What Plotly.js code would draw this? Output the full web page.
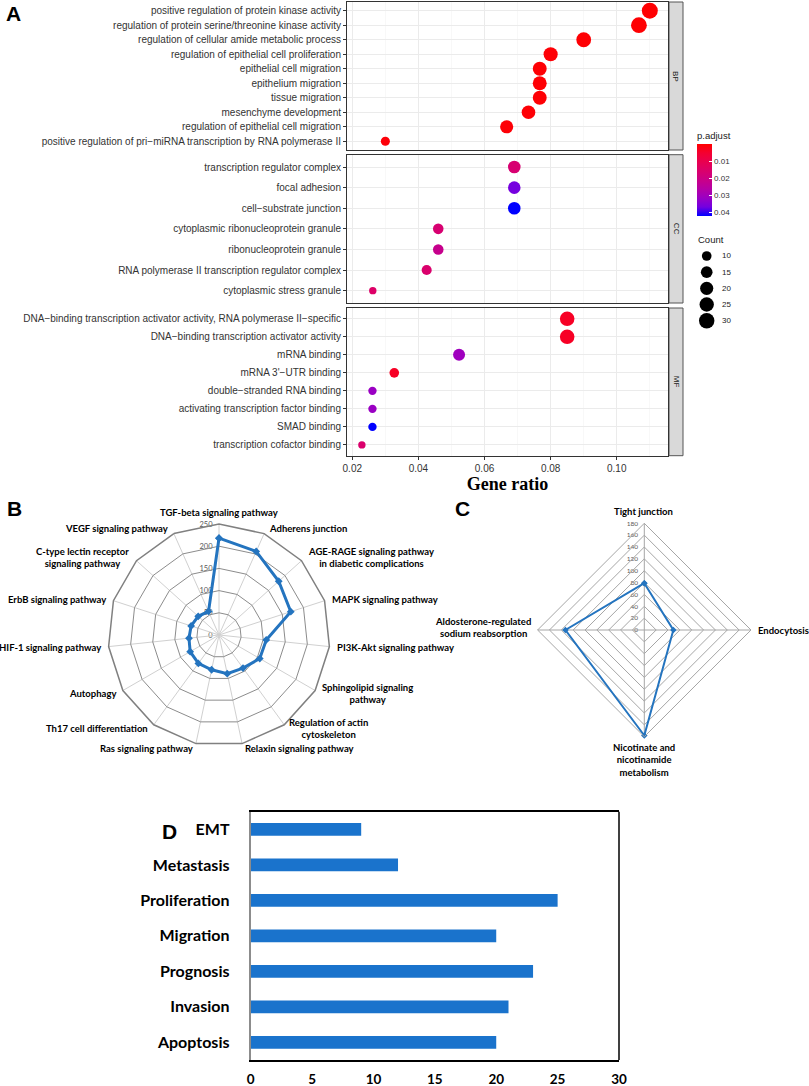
<!DOCTYPE html>
<html>
<head>
<meta charset="utf-8">
<script src="https://cdn.plot.ly/plotly-3.0.1.min.js"></script>
<style>html,body{margin:0;padding:0;background:#fff}#chart{width:809px;height:1086px}</style>
</head>
<body>
<div id="chart"></div>
<script>
// ---------------- Panel A data (GO enrichment dot plot) ----------------
const bpTerms = ["positive regulation of protein kinase activity","regulation of protein serine/threonine kinase activity","regulation of cellular amide metabolic process","regulation of epithelial cell proliferation","epithelial cell migration","epithelium migration","tissue migration","mesenchyme development","regulation of epithelial cell migration","positive regulation of pri\u2212miRNA transcription by RNA polymerase II"];
const bpRatio = [0.110,0.1067,0.090,0.080,0.0767,0.0767,0.0767,0.0733,0.0667,0.030];
const bpCount = [33,32,27,24,23,23,23,22,20,9];
const bpP = [0.0002,0.0003,0.0004,0.0006,0.0005,0.0005,0.0005,0.0007,0.0008,0.0010];

const ccTerms = ["transcription regulator complex","focal adhesion","cell\u2212substrate junction","cytoplasmic ribonucleoprotein granule","ribonucleoprotein granule","RNA polymerase II transcription regulator complex","cytoplasmic stress granule"];
const ccRatio = [0.069,0.069,0.069,0.0460,0.0460,0.0425,0.0262];
const ccCount = [18,18,18,12,12,11,7];
const ccP = [0.017,0.037,0.0426,0.017,0.022,0.016,0.015];

const mfTerms = ["DNA\u2212binding transcription activator activity, RNA polymerase II\u2212specific","DNA\u2212binding transcription activator activity","mRNA binding","mRNA 3'\u2212UTR binding","double\u2212stranded RNA binding","activating transcription factor binding","SMAD binding","transcription cofactor binding"];
const mfRatio = [0.085,0.085,0.0523,0.0327,0.0261,0.0261,0.0261,0.0229];
const mfCount = [26,26,16,10,8,8,8,7];
const mfP = [0.004,0.004,0.031,0.004,0.032,0.032,0.0426,0.016];

const facetNames = ["BP","CC","MF"];
const pTicks = [0.01,0.02,0.03,0.04];
const countLegend = [10,15,20,25,30];
const xTicksA = [0.02,0.04,0.06,0.08,0.10];

// ---------------- Panel B data (KEGG radar) ----------------
const bCats = ["TGF-beta signaling pathway","Adherens junction","AGE-RAGE signaling pathway<br>in diabetic complications","MAPK signaling pathway","PI3K-Akt signaling pathway","Sphingolipid signaling<br>pathway","Regulation of actin<br>cytoskeleton","Relaxin signaling pathway","Ras signaling pathway","Th17 cell differentiation","Autophagy","HIF-1 signaling pathway","ErbB signaling pathway","C-type lectin receptor<br>signaling pathway","VEGF signaling pathway"];
const bVals = [218,206,181,170,107,106,92,89,80,79,75,68,66,63,58];
const bTicks = [0,50,100,150,200,250];

// ---------------- Panel C data (radar) ----------------
const cCats = ["Tight junction","Endocytosis","Nicotinate and<br>nicotinamide<br>metabolism","Aldosterone-regulated<br>sodium reabsorption"];
const cVals = [79,49,178,133];
const cTicks = [0,20,40,60,80,100,120,140,160,180];

// ---------------- Panel D data (bar chart) ----------------
const dCats = ["EMT","Metastasis","Proliferation","Migration","Prognosis","Invasion","Apoptosis"];
const dVals = [9,12,25,20,23,21,20];

// ---------------- helpers / layout constants ----------------
const W = 809, H = 1086;
const fx = p => p / W;
const fy = p => 1 - p / H;
const dom = (top, bottom) => [fy(bottom), fy(top)];
const sizeOf = c => 6 + 10 * Math.sqrt(Math.max(0, c - 6.5) / 26.5);
const pMax = 0.0426;

const colorscale = [[0,'rgb(0,0,255)'],[0.125,'rgb(115,0,224)'],[0.25,'rgb(154,0,195)'],[0.375,'rgb(181,0,165)'],[0.5,'rgb(201,0,136)'],[0.625,'rgb(218,0,108)'],[0.75,'rgb(232,0,80)'],[0.875,'rgb(244,0,49)'],[1,'rgb(255,0,0)']];

const sansA = 'Liberation Sans, Arial, sans-serif';
const calib = 'Lato, Carlito, Calibri, sans-serif';

// label placement for radar category labels (pixel anchor, xanchor)
const bLabelPos = [[219,512,'center'],[267,528,'left'],[306,557,'left'],[330,599,'left'],[335,647,'left'],[320,693,'left'],[287,728.5,'left'],[243,748,'left'],[195,748,'right'],[150,728,'right'],[118,693,'right'],[103,647,'right'],[108,599,'right'],[131,557,'right'],[170,528,'right']];
const cLabelPos = [[643,511.7,'center'],[756,630,'left'],[644,760,'center'],[533,627.7,'right']];

function dotTrace(terms, ratio, count, p, xa, ya) {
  return {
    type: 'scatter', mode: 'markers', x: ratio, y: terms, xaxis: xa, yaxis: ya,
    marker: { size: count.map(sizeOf), color: p.map(v => -v), coloraxis: 'coloraxis', line: { width: 0 }, opacity: 1 },
    showlegend: false, hoverinfo: 'skip'
  };
}

const traces = [
  dotTrace(bpTerms, bpRatio, bpCount, bpP, 'x', 'y'),
  dotTrace(ccTerms, ccRatio, ccCount, ccP, 'x2', 'y2'),
  dotTrace(mfTerms, mfRatio, mfCount, mfP, 'x3', 'y3'),
  { // size legend
    type: 'scatter', mode: 'markers', x: countLegend.map(() => 0), y: countLegend, xaxis: 'x4', yaxis: 'y4',
    marker: { size: countLegend.map(sizeOf), color: '#000', opacity: 1, line: { width: 0 } }, showlegend: false, hoverinfo: 'skip'
  },
  { // panel B
    type: 'scatterpolar', r: bVals.concat([bVals[0]]), theta: bCats.concat([bCats[0]]), subplot: 'polar',
    mode: 'lines+markers', line: { color: '#2474BF', width: 3 }, marker: { symbol: 'diamond', size: 6, color: '#2474BF' },
    showlegend: false, hoverinfo: 'skip'
  },
  { // panel C
    type: 'scatterpolar', r: cVals.concat([cVals[0]]), theta: cCats.concat([cCats[0]]), subplot: 'polar2',
    mode: 'lines+markers', line: { color: '#2474BF', width: 2 }, marker: { symbol: 'diamond', size: 5, color: '#2474BF' },
    showlegend: false, hoverinfo: 'skip'
  },
  { // panel D
    type: 'bar', orientation: 'h', x: dVals, y: dCats, xaxis: 'x5', yaxis: 'y5', width: 0.36,
    marker: { color: '#1A73CC', line: { width: 0 } }, showlegend: false, hoverinfo: 'skip'
  },
  // radial value scales of B and C (drawn as vertical axes along the top spoke)
  { type: 'scatter', mode: 'markers', x: bTicks.map(() => 0), y: bTicks, xaxis: 'x6', yaxis: 'y6', marker: { opacity: 0 }, showlegend: false, hoverinfo: 'skip' },
  { type: 'scatter', mode: 'markers', x: cTicks.map(() => 0), y: cTicks, xaxis: 'x7', yaxis: 'y7', marker: { opacity: 0 }, showlegend: false, hoverinfo: 'skip' }
];

const aX = [347, 668];
const panels = [[2, 150], [154.7, 303], [308, 455.7]];
const aRange = [0.0184, 0.1155];

function xA(i) {
  const last = i === 2;
  return {
    domain: [fx(aX[0]), fx(aX[1])], anchor: i === 0 ? 'y' : 'y' + (i + 1), range: aRange,
    tickvals: xTicksA, ticktext: xTicksA.map(v => v.toFixed(2)),
    showticklabels: last, ticks: last ? 'outside' : '', ticklen: 3, tickcolor: '#333',
    tickfont: { family: sansA, size: 10, color: '#333' },
    showgrid: true, gridcolor: '#EBEBEB', gridwidth: 1,
    minor: { dtick: 0.01, tick0: 0.01, showgrid: true, gridcolor: '#F4F4F4', gridwidth: 0.6 },
    zeroline: false, showline: true, mirror: true, linecolor: '#333', linewidth: 1,
    title: last ? { text: 'Gene ratio', font: { family: 'Liberation Serif, Times New Roman, serif', size: 18, weight: 'bold', color: '#000' }, standoff: 4 } : { text: '' }
  };
}
function yA(i, terms) {
  return {
    domain: dom(panels[i][0], panels[i][1]), anchor: i === 0 ? 'x' : 'x' + (i + 1),
    type: 'category', categoryorder: 'array', categoryarray: terms, range: [terms.length - 1 + 0.6, -0.6],
    ticks: 'outside', ticklen: 3, tickcolor: '#333', tickfont: { family: sansA, size: 10, color: '#333' },
    showgrid: true, gridcolor: '#EBEBEB', gridwidth: 1, zeroline: false,
    showline: true, mirror: true, linecolor: '#333', linewidth: 1
  };
}

const shapes = [];
const annotations = [];
panels.forEach((pn, i) => {
  shapes.push({ type: 'rect', xref: 'paper', yref: 'paper', x0: fx(669), x1: fx(683), y0: fy(pn[1]), y1: fy(pn[0]),
    fillcolor: '#D9D9D9', line: { color: '#555', width: 1 }, layer: 'below' });
  annotations.push({ xref: 'paper', yref: 'paper', x: fx(676), y: fy((pn[0] + pn[1]) / 2), text: facetNames[i], textangle: 90,
    showarrow: false, font: { family: sansA, size: 8, color: '#1A1A1A' }, xanchor: 'center', yanchor: 'middle' });
});
annotations.push({ xref: 'paper', yref: 'paper', x: fx(696), y: fy(239), text: 'Count', showarrow: false, xanchor: 'left', yanchor: 'middle',
  font: { family: sansA, size: 9.5, color: '#1A1A1A' } });
countLegend.forEach(v => annotations.push({ xref: 'paper', yref: 'y4', x: fx(720), y: v, text: String(v), showarrow: false,
  xanchor: 'left', yanchor: 'middle', font: { family: sansA, size: 8, color: '#1A1A1A' } }));
[['A', 4, 14], ['B', 5, 509], ['C', 453, 509], ['D', 160, 831]].forEach(l => annotations.push({
  xref: 'paper', yref: 'paper', x: fx(l[1]), y: fy(l[2]), text: '<b>' + l[0] + '</b>', showarrow: false, xanchor: 'left', yanchor: 'middle',
  font: { family: sansA, size: 21, color: '#000' } }));
// radar category labels
function radarLabels(cats, pos) {
  cats.forEach((c, i) => annotations.push({ xref: 'paper', yref: 'paper', x: fx(pos[i][0]), y: fy(pos[i][1]), text: c,
    xanchor: pos[i][2], yanchor: 'middle', align: 'center', showarrow: false,
    font: { family: calib, size: 9.5, weight: 'bold', color: '#000' } }));
}
radarLabels(bCats, bLabelPos);
radarLabels(cCats, cLabelPos);
shapes.push({ type: 'line', xref: 'paper', yref: 'paper', x0: fx(619), x1: fx(619), y0: fy(1060), y1: fy(811.7), line: { color: '#000', width: 1.5 } });

function radialScale(domainY, range, dtick, xDomLeft, size) {
  return [
    { domain: [fx(xDomLeft), fx(xDomLeft + 10)], anchor: null, range: [0, 1], visible: false },
    { domain: domainY, range: range, dtick: dtick, side: 'left', showline: false, showgrid: false, zeroline: false,
      ticks: 'outside', ticklen: 4, tickcolor: 'rgba(0,0,0,0)', tickfont: { family: calib, size: size, color: '#595959' } }
  ];
}
const rB = radialScale(dom(524, 635), [0, 250], 50, 219, 7.5);
const rC = radialScale(dom(523.3, 630), [0, 180], 20, 644.3, 6.5);

const layout = {
  width: W, height: H, margin: { l: 0, r: 0, t: 0, b: 0, pad: 0 }, paper_bgcolor: '#fff', plot_bgcolor: 'rgba(0,0,0,0)',
  font: { family: sansA, color: '#333' }, showlegend: false,
  xaxis: xA(0), xaxis2: xA(1), xaxis3: xA(2),
  yaxis: yA(0, bpTerms), yaxis2: yA(1, ccTerms), yaxis3: yA(2, mfTerms),
  xaxis4: { domain: [fx(690), fx(724)], anchor: 'y4', range: [-16.7, 17.3], visible: false },
  yaxis4: { domain: dom(248, 330), anchor: 'x4', range: [32.87, 7.53], visible: false },
  xaxis6: Object.assign(rB[0], { anchor: 'y6' }), yaxis6: Object.assign(rB[1], { anchor: 'x6' }),
  xaxis7: Object.assign(rC[0], { anchor: 'y7' }), yaxis7: Object.assign(rC[1], { anchor: 'x7' }),
  coloraxis: {
    cmin: -pMax, cmax: 0, colorscale: colorscale,
    colorbar: {
      x: fx(697), xanchor: 'left', xref: 'paper', y: fy(128.5), yanchor: 'top', yref: 'paper',
      len: 87.5, lenmode: 'pixels', thickness: 15, thicknessmode: 'pixels', xpad: 0, ypad: 0,
      outlinewidth: 0, tickvals: pTicks.map(v => -v), ticktext: pTicks.map(v => v.toFixed(2)),
      ticks: 'inside', ticklen: 3, tickcolor: '#fff', tickwidth: 1,
      tickfont: { family: sansA, size: 8, color: '#333' },
      title: { text: 'p.adjust', side: 'top', font: { family: sansA, size: 9.5, color: '#1A1A1A' } }
    }
  },
  polar: {
    domain: { x: [fx(108), fx(330)], y: dom(524, 746) }, gridshape: 'linear', bgcolor: 'rgba(0,0,0,0)',
    radialaxis: { range: [0, 250], dtick: 50, angle: 90, showticklabels: false, showline: false, ticks: '',
      gridcolor: '#8C8C8C', gridwidth: 1 },
    angularaxis: { rotation: 90, direction: 'clockwise', gridcolor: '#D0D0D0', gridwidth: 1, linecolor: '#808080', linewidth: 1.5,
      ticks: '', showticklabels: false }
  },
  polar2: {
    domain: { x: [fx(537.6), fx(751)], y: dom(523.3, 736.7) }, gridshape: 'linear', bgcolor: 'rgba(0,0,0,0)',
    radialaxis: { range: [0, 180], dtick: 20, angle: 90, showticklabels: false, showline: false, ticks: '',
      gridcolor: '#A6A6A6', gridwidth: 1 },
    angularaxis: { rotation: 90, direction: 'clockwise', gridcolor: '#A6A6A6', gridwidth: 1, linecolor: '#A6A6A6', linewidth: 1,
      ticks: '', showticklabels: false }
  },
  xaxis5: { domain: [fx(250.7), fx(619)], anchor: 'y5', range: [0, 30], dtick: 5, showgrid: false, zeroline: false,
    showline: true, mirror: true, linecolor: '#000', linewidth: 1.5, ticks: 'outside', ticklen: 6, tickcolor: 'rgba(0,0,0,0)',
    tickfont: { family: calib, size: 13.5, weight: 'bold', color: '#000' } },
  yaxis5: { domain: dom(811.7, 1060), anchor: 'x5', type: 'category', categoryorder: 'array', categoryarray: dCats,
    range: [dCats.length - 0.5, -0.5], showgrid: false, zeroline: false, showline: true, linecolor: '#8C8C8C', linewidth: 2,
    ticks: 'outside', ticklen: 16, tickcolor: 'rgba(0,0,0,0)', tickfont: { family: calib, size: 16, weight: 'bold', color: '#000' } },
  shapes: shapes, annotations: annotations
};

Plotly.newPlot('chart', traces, layout, { displayModeBar: false, staticPlot: true });
</script>
</body>
</html>
